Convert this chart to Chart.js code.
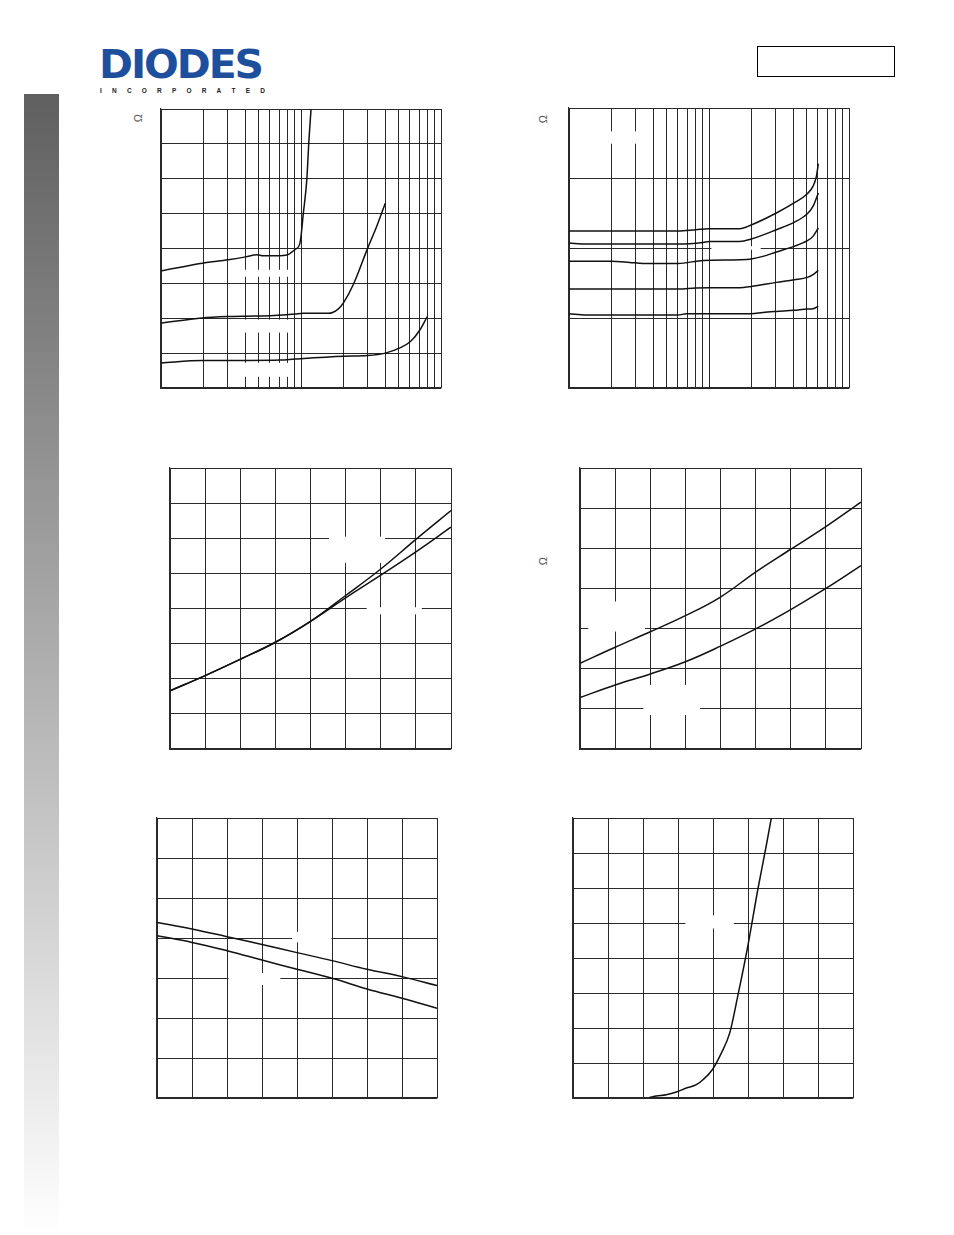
<!DOCTYPE html>
<html>
<head>
<meta charset="utf-8">
<script src="https://cdn.jsdelivr.net/npm/chart.js@4.4.0/dist/chart.umd.min.js"></script>
<style>
  body { margin: 0; background: #fff; }
  #page { position: relative; width: 954px; height: 1235px; overflow: hidden; font-family: "Liberation Sans", Arial, sans-serif; }
  .side { position: absolute; left: 24px; top: 94px; width: 35px; height: 1141px; background: linear-gradient(#5f5f5f, #ffffff); }
  .logo { position: absolute; left: 99px; top: 45px; font-family: "DejaVu Sans", sans-serif; font-size: 39px; line-height: 40px; font-weight: bold; color: #1d4f9d; letter-spacing: -2px; transform: scaleX(1.05); transform-origin: left top; }
  .inc { position: absolute; left: 100px; top: 87px; width: 165px; display: flex; justify-content: space-between; font-size: 6.5px; line-height: 7px; font-weight: bold; color: #222; }
  .box { position: absolute; left: 757px; top: 46px; width: 136px; height: 29px; border: 1.6px solid #000; }
  .ohm { position: absolute; width: 12px; height: 12px; line-height: 12px; text-align: center; font-size: 11px; color: #555; transform: rotate(-90deg); }
  canvas { position: absolute; }
</style>
</head>
<body>
<div id="page">
  <div class="side"></div>
  <div class="logo">DIODES</div>
  <div class="inc"><span>I</span><span>N</span><span>C</span><span>O</span><span>R</span><span>P</span><span>O</span><span>R</span><span>A</span><span>T</span><span>E</span><span>D</span></div>
  <div class="box"></div>
  <div class="ohm" style="left:132px;top:112px">Ω</div>
  <div class="ohm" style="left:537px;top:113px">Ω</div>
  <div class="ohm" style="left:537px;top:555px">Ω</div>
  <canvas id="c1" width="290" height="289" style="left:156px;top:104px"></canvas>
  <canvas id="c2" width="290" height="290" style="left:564px;top:103px"></canvas>
  <canvas id="c3" width="291" height="291" style="left:165px;top:463px"></canvas>
  <canvas id="c4" width="291" height="291" style="left:575px;top:463px"></canvas>
  <canvas id="c5" width="290" height="290" style="left:152px;top:813px"></canvas>
  <canvas id="c6" width="290" height="290" style="left:568px;top:813px"></canvas>
</div>
<script>
// tick / grid positions
const logTicks = [1, 2, 3, 4, 5, 6, 7, 8, 9, 10, 20, 30, 40, 50, 60, 70, 80, 90, 100];
const tempTicks = [-50, -25, 0, 25, 50, 75, 100, 125, 150];
const c1YTicks = [0, 1, 2, 3, 4, 5, 6, 7, 8];
const c2YTicks = [0, 1, 2, 3, 4];
const c3YTicks = [0.4, 0.6, 0.8, 1.0, 1.2, 1.4, 1.6, 1.8, 2.0];
const sevenTicks = [0, 0.5, 1, 1.5, 2, 2.5, 3, 3.5];
const c6XTicks = [0, 0.5, 1, 1.5, 2, 2.5, 3, 3.5, 4];
const c6YTicks = [0, 1, 2, 3, 4, 5, 6, 7, 8];

// chart 1: three curves, log x
const c1High = [[1, 3.36], [1.97, 3.58], [3.02, 3.68], [4.03, 3.76], [4.83, 3.82], [5.38, 3.79], [6.7, 3.79], [8.04, 3.82], [9.06, 3.97], [9.84, 4.16], [10.4, 5.02], [11.0, 5.97], [11.4, 7.12], [11.8, 8.0]];
const c1Mid = [[1, 1.86], [1.97, 2.01], [3.02, 2.05], [4.03, 2.06], [6.04, 2.07], [9.06, 2.12], [10.4, 2.14], [15.7, 2.14], [18.5, 2.27], [20.1, 2.44], [23.6, 2.96], [29.8, 3.99], [34.7, 4.63], [40, 5.3]];
const c1Low = [[1, 0.72], [1.97, 0.79], [4.03, 0.79], [7.11, 0.8], [9.06, 0.83], [20.1, 0.91], [29.8, 0.93], [40, 1.0], [50.9, 1.15], [60.8, 1.34], [70.8, 1.67], [79.8, 2.05]];

// chart 2: five curves, log x
const c2S1 = [[1, 2.243], [2.01, 2.243], [6.01, 2.243], [8.03, 2.261], [10, 2.276], [16.6, 2.276], [20, 2.329], [30.3, 2.5], [40.5, 2.643], [50.4, 2.776], [55.3, 2.88], [58.5, 3.023], [60.4, 3.204]];
const c2S2 = [[1, 2.071], [1.33, 2.057], [2.01, 2.057], [6.01, 2.057], [9.06, 2.08], [10, 2.094], [16.6, 2.094], [20, 2.128], [30.3, 2.261], [40.5, 2.366], [50.4, 2.49], [55.3, 2.594], [60.4, 2.786]];
const c2S3 = [[1, 1.809], [2.01, 1.809], [2.71, 1.794], [3.38, 1.78], [6.01, 1.78], [9.06, 1.823], [16.6, 1.833], [20, 1.843], [24.3, 1.88], [30.3, 1.943], [40.5, 2.023], [50.4, 2.104], [55.3, 2.166], [60.4, 2.286]];
const c2S4 = [[1, 1.414], [2.01, 1.414], [6.01, 1.414], [8.03, 1.429], [10, 1.433], [16.6, 1.433], [20, 1.451], [30.3, 1.509], [40.5, 1.547], [50.4, 1.58], [55.3, 1.619], [60.4, 1.68]];
const c2S5 = [[1, 1.061], [1.33, 1.043], [2.01, 1.043], [6.01, 1.043], [6.9, 1.061], [10, 1.061], [20, 1.061], [24.3, 1.08], [30.3, 1.094], [40.5, 1.109], [50.4, 1.129], [55.3, 1.133], [60.4, 1.166]];

// chart 3: normalised value vs temperature
const c3Upper = [[-50, 0.731], [-25, 0.818], [0, 0.911], [25, 1.008], [50, 1.127], [75, 1.274], [100, 1.425], [125, 1.594], [150, 1.758]];
const c3Lower = [[-50, 0.731], [-25, 0.818], [0, 0.911], [25, 1.008], [50, 1.127], [75, 1.261], [100, 1.39], [125, 1.523], [150, 1.663]];

// chart 4
const c4Upper = [[-50, 1.068], [-25, 1.268], [0, 1.46], [25, 1.661], [50, 1.893], [75, 2.204], [100, 2.488], [125, 2.77], [150, 3.075]];
const c4Lower = [[-50, 0.64], [-25, 0.798], [0, 0.935], [25, 1.087], [50, 1.281], [75, 1.496], [100, 1.737], [125, 2.0], [150, 2.284]];

// chart 5
const c5Upper = [[-50, 2.195], [-25, 2.112], [0, 2.016], [25, 1.92], [50, 1.817], [75, 1.717], [100, 1.609], [125, 1.517], [150, 1.405]];
const c5Lower = [[-50, 2.029], [-25, 1.945], [0, 1.841], [25, 1.725], [50, 1.609], [75, 1.496], [100, 1.363], [125, 1.247], [150, 1.122]];

// chart 6
const c6Curve = [[1.095, 0.019], [1.19, 0.057], [1.333, 0.095], [1.476, 0.171], [1.619, 0.285], [1.762, 0.38], [1.857, 0.523], [1.99, 0.808], [2.119, 1.283], [2.238, 1.853], [2.357, 2.945], [2.5, 4.371], [2.643, 5.986], [2.762, 7.221], [2.833, 8.0]];

// blank areas left in the grid where curve labels used to sit: [x0, x1, y0, y1] in data units
const c1Blanks = [[3.8, 8.3, 3.19, 3.39], [3.8, 8.3, 1.59, 1.96], [3.8, 8.3, 0.32, 0.72]];
const c2Blanks = [[1.66, 3.77, 3.49, 3.666], [10.4, 23.4, 1.976, 2.026]];
const c3Blanks = [[63.2, 103.1, 1.46, 1.609], [90, 129.2, 1.167, 1.207]];
const c4Blanks = [[-44.1, -3.7, 1.463, 1.837], [-4.9, 35.5, 0.424, 0.798]];
const c5Blanks = [[46.4, 74.6, 1.945, 2.077], [1.1, 38.1, 1.412, 1.562]];
const c6Blanks = [[1.606, 2.296, 4.843, 5.222]];

const blankPlugin = {
  id: "blanks",
  beforeDatasetsDraw: function (chart, args, opts) {
    const ctx = chart.ctx;
    const xs = chart.scales.x;
    const ys = chart.scales.y;
    ctx.save();
    ctx.fillStyle = "#fff";
    (opts.boxes || []).forEach(function (b) {
      const x0 = xs.getPixelForValue(b[0]);
      const x1 = xs.getPixelForValue(b[1]);
      const y0 = ys.getPixelForValue(b[2]);
      const y1 = ys.getPixelForValue(b[3]);
      ctx.fillRect(Math.min(x0, x1), Math.min(y0, y1), Math.abs(x1 - x0), Math.abs(y1 - y0));
    });
    ctx.restore();
  },
};

function axis(type, ticks) {
  return {
    type: type,
    min: ticks[0],
    max: ticks[ticks.length - 1],
    ticks: { display: false },
    grid: { color: "#2a2a2a", lineWidth: 1, drawTicks: false },
    border: { color: "#2a2a2a", width: 1.2 },
    afterBuildTicks: function (scale) {
      scale.ticks = ticks.map(function (v) { return { value: v }; });
    },
  };
}

function makeChart(id, xType, xTicks, yTicks, series, smooth, blanks) {
  const datasets = series.map(function (points) {
    return {
      data: points.map(function (p) { return { x: p[0], y: p[1] }; }),
      borderColor: "#111",
      borderWidth: 1.5,
      pointRadius: 0,
      fill: false,
      tension: smooth ? 0.4 : 0,
      cubicInterpolationMode: smooth ? "default" : "monotone",
    };
  });
  new Chart(document.getElementById(id).getContext("2d"), {
    type: "line",
    data: { datasets: datasets },
    plugins: [blankPlugin],
    options: {
      responsive: false,
      animation: false,
      layout: { padding: 5 },
      plugins: {
        legend: { display: false },
        tooltip: { enabled: false },
        blanks: { boxes: blanks },
      },
      scales: {
        x: axis(xType, xTicks),
        y: axis("linear", yTicks),
      },
    },
  });
}

makeChart("c1", "logarithmic", logTicks, c1YTicks, [c1High, c1Mid, c1Low], false, c1Blanks);
makeChart("c2", "logarithmic", logTicks, c2YTicks, [c2S1, c2S2, c2S3, c2S4, c2S5], false, c2Blanks);
makeChart("c3", "linear", tempTicks, c3YTicks, [c3Upper, c3Lower], true, c3Blanks);
makeChart("c4", "linear", tempTicks, sevenTicks, [c4Upper, c4Lower], true, c4Blanks);
makeChart("c5", "linear", tempTicks, sevenTicks, [c5Upper, c5Lower], true, c5Blanks);
makeChart("c6", "linear", c6XTicks, c6YTicks, [c6Curve], false, c6Blanks);
</script>
</body>
</html>
